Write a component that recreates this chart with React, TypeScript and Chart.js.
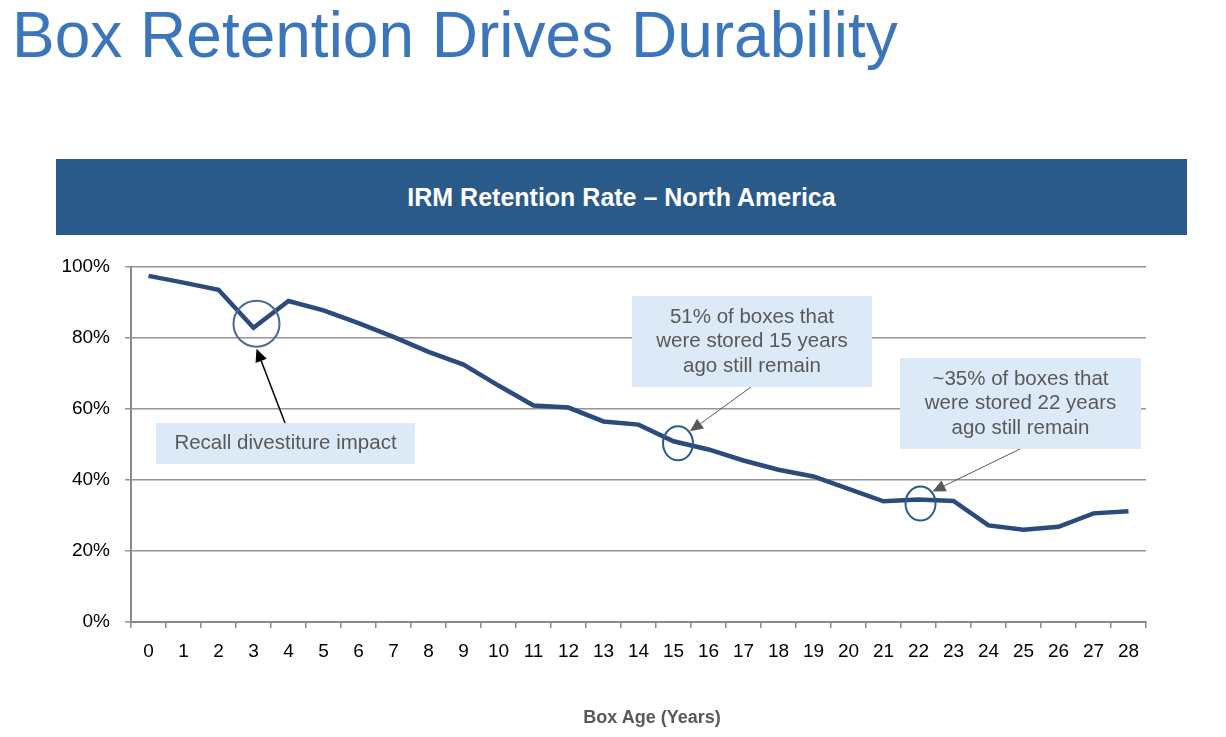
import { useEffect, useRef } from "react";
import { Chart, registerables } from "chart.js";

Chart.register(...registerables);

const boxAges = ["0", "1", "2", "3", "4", "5", "6", "7", "8", "9", "10", "11", "12", "13", "14", "15", "16", "17", "18", "19", "20", "21", "22", "23", "24", "25", "26", "27", "28"];
const retention = [97.5, 95.6, 93.6, 82.9, 90.4, 87.8, 84.2, 80.3, 76.1, 72.5, 66.6, 61.0, 60.4, 56.5, 55.6, 50.9, 48.6, 45.5, 42.9, 41.0, 37.5, 34.0, 34.5, 34.1, 27.2, 26.0, 26.8, 30.6, 31.2];
const yTicks = [0, 20, 40, 60, 80, 100];

const FONT = "'Liberation Sans', Arial, sans-serif";

// callouts: which point they mark, and where their text box sits (canvas px)
const callouts = [
  {
    index: 3,
    circle: { dx: 3, dy: -4, rx: 23, ry: 23, color: "#4a6a96" },
    box: { x: 156, y: 183, w: 259, h: 41 },
    lines: ["Recall divestiture impact"],
    arrow: { fromX: 285, fromY: 183, tipDx: 0, tipDy: 25, color: "#000000", width: 1.5 },
  },
  {
    index: 15,
    circle: { dx: 4.5, dy: 2, rx: 15, ry: 17, color: "#2a5c92" },
    box: { x: 632, y: 56, w: 240, h: 91 },
    lines: ["51% of boxes that", "were stored 15 years", "ago still remain"],
    arrow: { fromX: 751, fromY: 147, tipDx: 12, tipDy: -12, color: "#595959", width: 1 },
  },
  {
    index: 22,
    circle: { dx: 2, dy: 4, rx: 15, ry: 17, color: "#2a5c92" },
    box: { x: 900, y: 118, w: 241, h: 91 },
    lines: ["~35% of boxes that", "were stored 22 years", "ago still remain"],
    arrow: { fromX: 1020, fromY: 209, tipDx: 12, tipDy: -12, color: "#595959", width: 1 },
  },
];

const calloutPlugin = {
  id: "callouts",
  afterDatasetsDraw(chart: any) {
    const { ctx, scales } = chart;
    const xs = scales.x;
    const ys = scales.y;
    ctx.save();
    for (const c of callouts) {
      const px = xs.getPixelForValue(c.index);
      const py = ys.getPixelForValue(retention[c.index]);
      const cx = px + c.circle.dx;
      const cy = py + c.circle.dy;

      // circle
      ctx.beginPath();
      ctx.ellipse(cx, cy, c.circle.rx, c.circle.ry, 0, 0, Math.PI * 2);
      ctx.strokeStyle = c.circle.color;
      ctx.lineWidth = 2;
      ctx.stroke();

      // box
      ctx.fillStyle = "#dce9f6";
      ctx.fillRect(c.box.x, c.box.y, c.box.w, c.box.h);
      ctx.fillStyle = "#595959";
      ctx.font = `20.5px ${FONT}`;
      ctx.textAlign = "center";
      ctx.textBaseline = "middle";
      const lh = 24.5;
      const mid = c.box.y + c.box.h / 2;
      c.lines.forEach((t, i) => {
        ctx.fillText(t, c.box.x + c.box.w / 2, mid + (i - (c.lines.length - 1) / 2) * lh);
      });

      // arrow
      const tx = cx + c.arrow.tipDx;
      const ty = cy + c.arrow.tipDy;
      const ang = Math.atan2(ty - c.arrow.fromY, tx - c.arrow.fromX);
      const hl = 13;
      const hw = 6;
      const bx = tx - Math.cos(ang) * hl;
      const by = ty - Math.sin(ang) * hl;
      ctx.beginPath();
      ctx.moveTo(c.arrow.fromX, c.arrow.fromY);
      ctx.lineTo(bx, by);
      ctx.strokeStyle = c.arrow.color;
      ctx.lineWidth = c.arrow.width;
      ctx.stroke();
      ctx.beginPath();
      ctx.moveTo(tx, ty);
      ctx.lineTo(bx - Math.sin(ang) * hw, by + Math.cos(ang) * hw);
      ctx.lineTo(bx + Math.sin(ang) * hw, by - Math.cos(ang) * hw);
      ctx.closePath();
      ctx.fillStyle = c.arrow.color;
      ctx.fill();
    }
    ctx.restore();
  },
};

function RetentionChart() {
  const chartRef = useRef<HTMLCanvasElement>(null);
  const chartInstance = useRef<Chart | null>(null);

  useEffect(() => {
    if (!chartRef.current) return;
    const ctx = chartRef.current.getContext("2d");
    if (!ctx) return;
    if (chartInstance.current) chartInstance.current.destroy();

    chartInstance.current = new Chart(ctx, {
      type: "line",
      data: {
        labels: boxAges,
        datasets: [
          {
            data: retention,
            borderColor: "#2b4b7d",
            borderWidth: 4.5,
            borderJoinStyle: "miter",
            pointRadius: 0,
            tension: 0,
            fill: false,
          },
        ],
      },
      options: {
        animation: false,
        responsive: true,
        maintainAspectRatio: false,
        layout: { padding: { left: 0, right: 80, top: 27, bottom: 0 } },
        plugins: {
          legend: { display: false },
          tooltip: { enabled: false },
        },
        scales: {
          x: {
            type: "category",
            offset: true,
            grid: {
              drawOnChartArea: false,
              offset: true,
              tickLength: 6,
              color: "#8a8a8a",
              lineWidth: 1.5,
            },
            border: { color: "#8a8a8a", width: 2 },
            ticks: {
              color: "#000000",
              font: { family: FONT, size: 19 },
              padding: 12,
              maxRotation: 0,
              autoSkip: false,
            },
            afterFit: (scale: any) => {
              scale.height = 115;
            },
          },
          y: {
            min: 0,
            max: 100,
            afterBuildTicks: (scale: any) => {
              scale.ticks = yTicks.map((v) => ({ value: v }));
            },
            grid: { color: "#959595", lineWidth: 1.5, tickLength: 6 },
            border: { color: "#8a8a8a", width: 2 },
            ticks: {
              color: "#000000",
              font: { family: FONT, size: 19 },
              padding: 15,
              callback: (v: any) => v + "%",
            },
            afterFit: (scale: any) => {
              scale.width = 131;
            },
          },
        },
      },
      plugins: [calloutPlugin],
    });

    return () => {
      if (chartInstance.current) {
        chartInstance.current.destroy();
        chartInstance.current = null;
      }
    };
  }, []);

  return (
    <div style={{ position: "absolute", left: 0, top: 240, width: 1226, height: 497 }}>
      <canvas ref={chartRef}></canvas>
    </div>
  );
}

export default function App() {
  return (
    <div
      style={{
        position: "absolute",
        left: 0,
        top: 0,
        width: 1226,
        height: 737,
        background: "#ffffff",
        overflow: "hidden",
        fontFamily: FONT,
      }}
    >
      <div
        style={{
          position: "absolute",
          left: 12,
          top: 3,
          fontSize: 64,
          lineHeight: "64px",
          color: "#3b76bc",
          whiteSpace: "nowrap",
        }}
      >
        Box Retention Drives Durability
      </div>
      <div
        style={{
          position: "absolute",
          left: 56,
          top: 159,
          width: 1131,
          height: 76,
          background: "#2a5a8a",
          color: "#ffffff",
          fontSize: 25,
          fontWeight: "bold",
          display: "flex",
          alignItems: "center",
          justifyContent: "center",
        }}
      >
        IRM Retention Rate – North America
      </div>
      <RetentionChart />
      <div
        style={{
          position: "absolute",
          left: 552,
          top: 706,
          width: 200,
          lineHeight: "22px",
          textAlign: "center",
          fontSize: 18,
          fontWeight: "bold",
          color: "#595959",
        }}
      >
        Box Age (Years)
      </div>
    </div>
  );
}
